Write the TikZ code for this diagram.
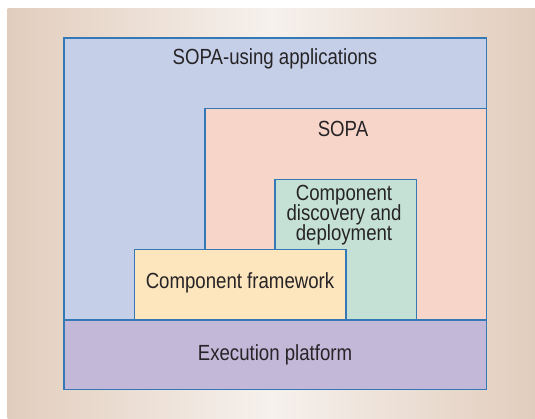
\documentclass[tikz,border=0pt]{standalone}
\usepackage{fontspec}
\setmainfont{Liberation Sans}[FakeStretch=0.85]
\definecolor{bgedge}{RGB}{226,205,189}
\definecolor{bgmid}{RGB}{246,241,237}
\definecolor{appblue}{RGB}{197,207,232}
\definecolor{sopapink}{RGB}{248,213,201}
\definecolor{discgreen}{RGB}{197,224,212}
\definecolor{fwyellow}{RGB}{253,229,190}
\definecolor{execpurple}{RGB}{195,184,216}
\definecolor{edgeblue}{RGB}{52,120,182}
\definecolor{txt}{RGB}{38,36,38}
\tikzset{
  layer/.style={draw=edgeblue, line width=1.3bp},
  lbl/.style={anchor=base, inner sep=0pt, text=txt, font=\fontsize{22}{24}\selectfont}
}
\begin{document}
\begin{tikzpicture}[x=1bp,y=-1bp]
\useasboundingbox (0,0) rectangle (535,418);
\fill[white] (0,0) rectangle (535,418);
\shade[left color=bgedge, right color=bgedge, middle color=bgmid] (7.5,8) rectangle (535,418);
% layers
\draw[layer, fill=appblue] (64,38) rectangle (486.7,320);
\draw[layer, fill=sopapink] (205,108.5) rectangle (486.7,320);
\draw[layer, fill=discgreen] (275,179.3) rectangle (416.3,320);
\draw[layer, fill=fwyellow] (134.3,249.3) rectangle (346,320);
\draw[layer, fill=execpurple] (64,320) rectangle (486.7,389.7);
% labels
\node[lbl] (apps) at (275,64) {SOPA-using applications};
\node[lbl] (sopa) at (343,136) {SOPA};
\node[lbl] (disc1) at (344,200) {Component};
\node[lbl] (disc2) at (344,220) {discovery and};
\node[lbl] (disc3) at (344,240) {deployment};
\node[lbl] (fw) at (240,288) {Component framework};
\node[lbl] (exec) at (275,360) {Execution platform};
\end{tikzpicture}
\end{document}
